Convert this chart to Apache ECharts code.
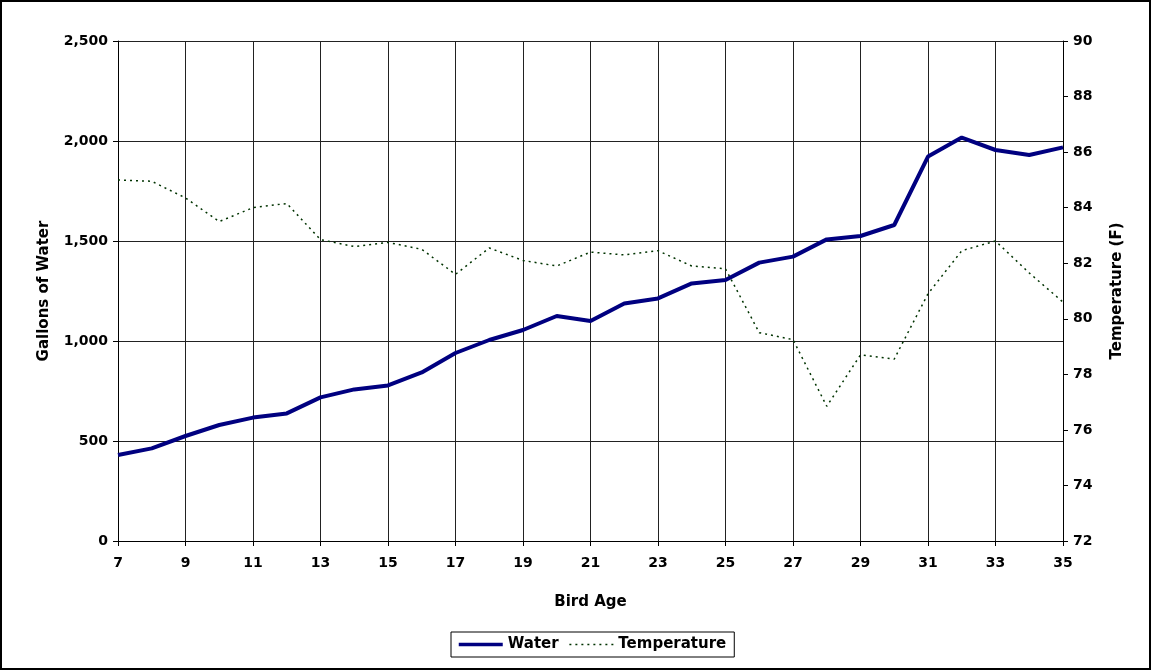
<!DOCTYPE html>
<html>
<head>
<meta charset="utf-8">
<script src="https://cdn.jsdelivr.net/npm/echarts@6/dist/echarts.min.js"></script>
<style>
  html, body { margin: 0; padding: 0; background: #fff; }
  #frame { position: absolute; left: 0; top: 0; width: 1147px; height: 666px; border: 2px solid #000; }
  #chart { width: 1147px; height: 666px; }
</style>
</head>
<body>
<div id="frame"><div id="chart"></div></div>
<script>
// Bird age in days
const birdAge = [7, 8, 9, 10, 11, 12, 13, 14, 15, 16, 17, 18, 19, 20, 21,
                 22, 23, 24, 25, 26, 27, 28, 29, 30, 31, 32, 33, 34, 35];

// Daily water use (gallons)
const water = [430, 463, 525, 580, 617, 638, 718, 758, 778, 843, 940, 1005, 1055, 1125, 1100,
               1188, 1213, 1288, 1305, 1392, 1422, 1508, 1525, 1580, 1922, 2017, 1955, 1930, 1968];

// House temperature (F)
const temperature = [85.0, 84.95, 84.35, 83.5, 84.0, 84.15, 82.85, 82.6, 82.75, 82.5, 81.6, 82.55, 82.1, 81.9, 82.4,
                     82.3, 82.45, 81.9, 81.8, 79.5, 79.25, 76.85, 78.7, 78.55, 80.9, 82.45, 82.8, 81.65, 80.6];

const font = '"DejaVu Sans", "Liberation Sans", Arial, sans-serif';
const labelStyle = { color: '#000', fontFamily: font, fontWeight: 'bold', fontSize: 14 };
const titleStyle = { ...labelStyle, fontSize: 15 };

const chart = echarts.init(document.getElementById('chart'), null, { renderer: 'canvas' });

chart.setOption({
  animation: false,
  backgroundColor: '#fff',
  grid: { left: 116, top: 39, right: 86, bottom: 127, containLabel: false },
  legend: {
    left: 449,
    top: 630,
    itemWidth: 44,
    itemHeight: 12,
    itemGap: 10,
    padding: [5, 8, 5, 6],
    borderColor: '#000',
    borderWidth: 1,
    textStyle: { ...labelStyle, fontSize: 15 },
    itemStyle: { color: 'rgba(0,0,0,0)', borderWidth: 0 },
    data: [
      { name: 'Water', lineStyle: { width: 3.5 } },
      { name: 'Temperature', lineStyle: { width: 1.5 } }
    ]
  },
  xAxis: {
    type: 'category',
    data: birdAge,
    boundaryGap: false,
    name: 'Bird Age',
    nameLocation: 'middle',
    nameGap: 54,
    nameTextStyle: titleStyle,
    axisLine: { lineStyle: { color: '#000', width: 1 } },
    axisTick: { show: true, interval: 1, length: 5, lineStyle: { color: '#000' } },
    axisLabel: { ...labelStyle, interval: 1, margin: 15 },
    splitLine: { show: true, interval: 1, lineStyle: { color: '#222', width: 1 } }
  },
  yAxis: [
    {
      type: 'value',
      min: 0, max: 2500, interval: 500,
      name: 'Gallons of Water',
      nameLocation: 'middle',
      nameGap: 66,
      nameRotate: 90,
      nameTextStyle: titleStyle,
      axisLine: { show: true, lineStyle: { color: '#000' } },
      axisTick: { show: true, length: 5, lineStyle: { color: '#000' } },
      axisLabel: {
        ...labelStyle,
        margin: 10,
        formatter: v => v.toLocaleString('en-US')
      },
      splitLine: { show: true, lineStyle: { color: '#222', width: 1 } }
    },
    {
      type: 'value',
      min: 72, max: 90, interval: 2,
      position: 'right',
      name: 'Temperature (F)',
      nameLocation: 'middle',
      nameGap: 47,
      nameRotate: 90,
      nameTextStyle: titleStyle,
      axisLine: { show: true, lineStyle: { color: '#000' } },
      axisTick: { show: true, length: 5, lineStyle: { color: '#000' } },
      axisLabel: { ...labelStyle, margin: 10 },
      splitLine: { show: false }
    }
  ],
  series: [
    {
      name: 'Water',
      type: 'line',
      yAxisIndex: 0,
      data: water,
      symbol: 'none',
      color: '#000080',
      lineStyle: { color: '#000080', width: 4 }
    },
    {
      name: 'Temperature',
      type: 'line',
      yAxisIndex: 1,
      data: temperature,
      symbol: 'none',
      color: '#003300',
      lineStyle: { color: '#003300', width: 1.5, type: [2, 4] }
    }
  ]
});
</script>
</body>
</html>
